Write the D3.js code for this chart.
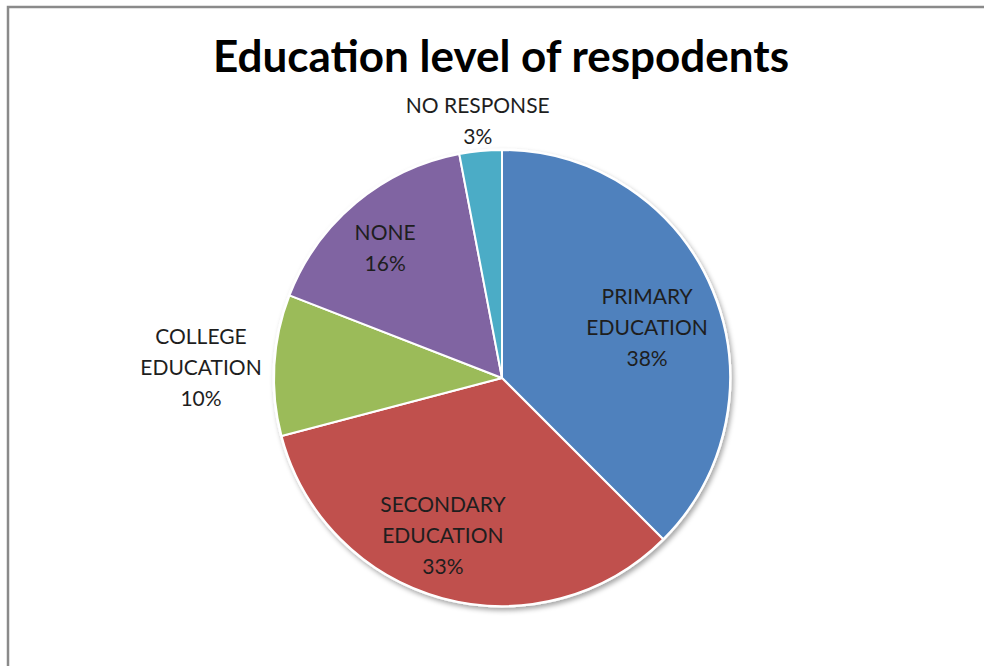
<!DOCTYPE html>
<html>
<head>
<meta charset="utf-8">
<script src="https://cdn.jsdelivr.net/npm/d3@7"></script>
<style>
  body { margin: 0; background: #fff; }
  svg { display: block; }
  .lbl { font-family: Lato, "Open Sans", sans-serif; font-size: 21px; fill: #1e1e1e; }
</style>
</head>
<body>
<svg id="chart" width="984" height="666"></svg>
<script>
// slice data (percent of respondents)
const categories = ["PRIMARY EDUCATION", "SECONDARY EDUCATION", "COLLEGE EDUCATION", "NONE", "NO RESPONSE"];
const values = [37.5, 33.4, 10, 16.1, 3];
const colors = ["#4F81BD", "#C0504D", "#9BBB59", "#8064A2", "#4BACC6"];
// label lines per slice (text is wrapped like the original)
const labelLines = [["PRIMARY", "EDUCATION"], ["SECONDARY", "EDUCATION"], ["COLLEGE", "EDUCATION"], ["NONE"], ["NO RESPONSE"]];

const W = 984, H = 666;
const cx = 502, cy = 378, R = 228;

const svg = d3.select("#chart");

// chart frame, only top + left edges show in the window
svg.append("rect")
    .attr("x", 8).attr("y", 7)
    .attr("width", W + 40).attr("height", H + 40)
    .attr("fill", "none")
    .attr("stroke", "#8a8a8a")
    .attr("stroke-width", 2.5);

svg.append("text")
    .attr("x", 501).attr("y", 72)
    .attr("text-anchor", "middle")
    .style("font-family", "Lato, 'Open Sans', sans-serif")
    .style("font-weight", "bold")
    .style("font-size", "44px")
    .style("fill", "#000")
    .text("Education level of respodents");

const defs = svg.append("defs");
const f = defs.append("filter").attr("id", "shadow")
    .attr("x", "-10%").attr("y", "-10%").attr("width", "120%").attr("height", "120%");
f.append("feDropShadow")
    .attr("dx", 2).attr("dy", 3)
    .attr("stdDeviation", 2.5)
    .attr("flood-color", "#000")
    .attr("flood-opacity", 0.35);

const total = d3.sum(values);
const pie = d3.pie().sort(null).value(d => d)(values);
const arc = d3.arc().innerRadius(0).outerRadius(R);

const g = svg.append("g").attr("transform", `translate(${cx},${cy})`);

// white backing disk gives the shadow + thin rim
g.append("circle").attr("r", R + 1.5).attr("fill", "#fff").attr("filter", "url(#shadow)");

g.selectAll("path.slice")
    .data(pie)
    .join("path")
    .attr("class", "slice")
    .attr("d", arc)
    .attr("fill", (d, i) => colors[i])
    .attr("stroke", "#fff")
    .attr("stroke-width", 2)
    .attr("stroke-linejoin", "round");

// label placement: radius as fraction of R, plus a small angle nudge (degrees)
const labelRadius = [0.673, 0.74, 1.321, 0.765, 1.132];
const labelNudge = [3.5, 5.4, -1.3, -2.3, 0];
const lineH = 31;

pie.forEach((d, i) => {
    const a = (d.startAngle + d.endAngle) / 2 + labelNudge[i] * Math.PI / 180;
    const r = R * labelRadius[i];
    const x = Math.sin(a) * r;
    const y = -Math.cos(a) * r;
    const lines = labelLines[i].concat([Math.round(values[i] / total * 100) + "%"]);
    const t = g.append("text")
        .attr("class", "lbl")
        .attr("text-anchor", "middle");
    lines.forEach((s, k) => {
        t.append("tspan")
            .attr("x", x)
            .attr("y", y + (k - (lines.length - 1) / 2) * lineH + 7)
            .text(s);
    });
});
</script>
</body>
</html>
